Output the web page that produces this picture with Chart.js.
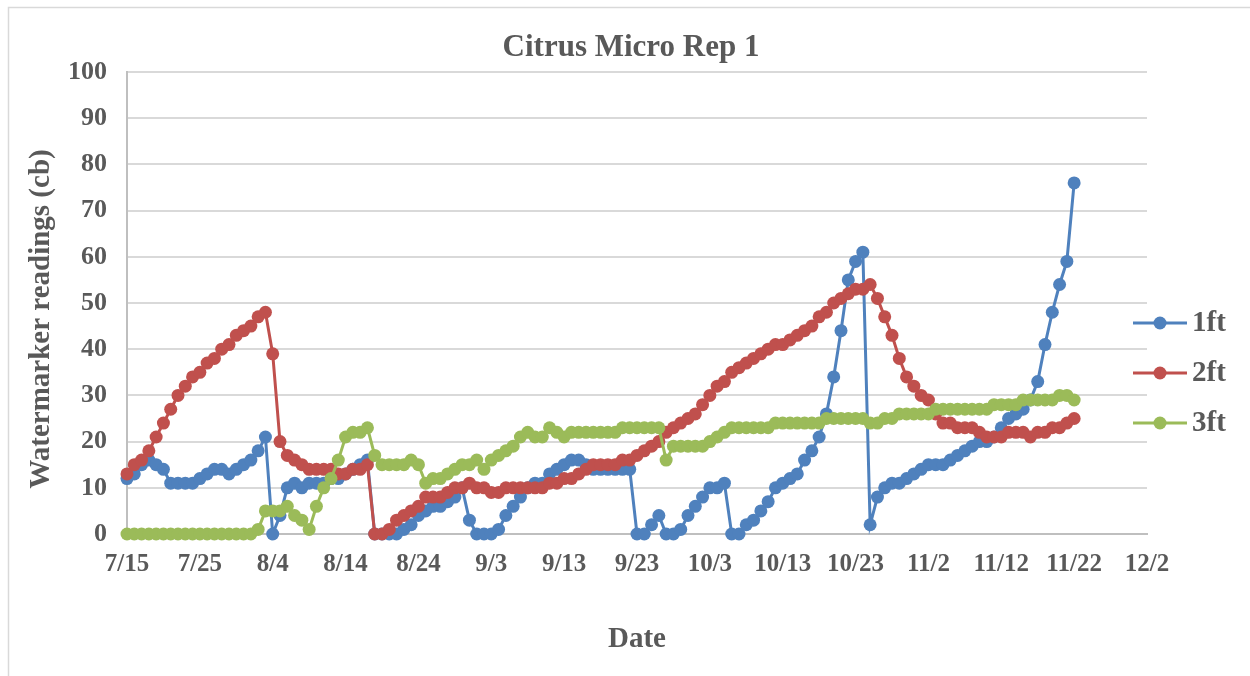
<!DOCTYPE html>
<html>
<head>
<meta charset="utf-8">
<script src="https://cdn.jsdelivr.net/npm/chart.js@4.4.0/dist/chart.umd.min.js"></script>
<style>
  html, body { margin: 0; padding: 0; background: #ffffff; }
  #wrap { width: 1250px; height: 676px; position: relative; }
</style>
</head>
<body>
<div id="wrap"><canvas id="chart" width="1250" height="676"></canvas></div>
<script>
// x axis tick labels, every 10 days starting 7/15
const xLabels = ['7/15', '7/25', '8/4', '8/14', '8/24', '9/3', '9/13', '9/23', '10/3', '10/13', '10/23', '11/2', '11/12', '11/22', '12/2'];
const seriesNames = ['1ft', '2ft', '3ft'];

// daily readings, index 0 = 7/15
const ft1 = [
  12, 13, 15, 16, 15, 14, 11, 11, 11, 11, 12, 13, 14, 14, 13, 14, 15, 16, 18, 21,
  0, 4, 10, 11, 10, 11, 11, 11, 12, 12, 13, 14, 15, 16,
  0, 0, 0, 0, 1, 2, 4, 5, 6, 6, 7, 8, 10, 3, 0, 0, 0, 1,
  4, 6, 8, 10, 11, 11, 13, 14, 15, 16, 16, 15, 14, 14, 14, 14, 14, 14,
  0, 0, 2, 4, 0, 0, 1, 4, 6, 8, 10, 10, 11,
  0, 0, 2, 3, 5, 7, 10, 11, 12, 13, 16, 18, 21, 26, 34, 44, 55, 59, 61,
  2, 8, 10, 11, 11, 12, 13, 14, 15, 15, 15, 16, 17, 18, 19, 20, 20, 21, 23, 25, 26, 27, 29,
  33, 41, 48, 54, 59, 76
];
const ft2 = [
  13, 15, 16, 18, 21, 24, 27, 30, 32, 34, 35, 37, 38, 40, 41, 43, 44, 45, 47, 48,
  39, 20, 17, 16, 15, 14, 14, 14, 14, 13, 13, 14, 14, 15,
  0, 0, 1, 3, 4, 5, 6, 8, 8, 8, 9, 10, 10, 11, 10, 10, 9,
  9, 10, 10, 10, 10, 10, 10, 11, 11, 12, 12, 13, 14, 15, 15, 15, 15, 16, 16, 17, 18, 19, 20, 22, 23, 24, 25, 26, 28, 30,
  32, 33, 35, 36, 37, 38, 39, 40, 41, 41, 42, 43, 44, 45, 47, 48, 50, 51, 52, 53, 53, 54,
  51, 47, 43, 38, 34, 32, 30, 29, 26, 24, 24, 23, 23, 23, 22, 21, 21, 21, 22, 22, 22, 21, 22, 22, 23, 23, 24, 25
];
const ft3 = [
  0, 0, 0, 0, 0, 0, 0, 0, 0, 0, 0, 0, 0, 0, 0, 0, 0, 0,
  1, 5, 5, 5, 6, 4, 3, 1, 6, 10, 12, 16, 21, 22, 22, 23,
  17, 15, 15, 15, 15, 16, 15, 11, 12, 12, 13, 14, 15, 15, 16, 14, 16, 17, 18, 19, 21,
  22, 21, 21, 23, 22, 21, 22, 22, 22, 22, 22, 22, 22, 23, 23, 23, 23, 23, 23,
  16, 19, 19, 19, 19, 19, 20, 21, 22, 23, 23, 23, 23, 23, 23, 24, 24, 24, 24, 24, 24, 24, 25, 25, 25, 25, 25, 25,
  24, 24, 25, 25, 26, 26, 26, 26, 26, 27, 27, 27, 27, 27, 27, 27, 27, 28, 28, 28, 28, 29, 29, 29, 29, 29, 30, 30, 29
];

const colors = ['#4f81bd', '#c0504d', '#9bbb59'];
const FONT = "'Liberation Serif', 'Times New Roman', serif";
const TEXT = '#595959';

const toPoints = (arr) => arr.map((v, i) => ({ x: i, y: v }));

const makeSet = (name, values, color, order) => ({
  label: name,
  data: toPoints(values),
  borderColor: color,
  backgroundColor: color,
  borderWidth: 3,
  pointRadius: 6.5,
  pointHoverRadius: 6.5,
  pointBorderWidth: 0,
  pointBackgroundColor: color,
  tension: 0,
  clip: false,
  order: order
});

// titles, legend and frame drawn on the canvas
const decorations = {
  id: 'decorations',
  beforeDraw(chart) {
    const ctx = chart.ctx;
    ctx.save();
    ctx.strokeStyle = '#d9d9d9';
    ctx.lineWidth = 1.5;
    ctx.beginPath();
    ctx.moveTo(8.5, 680);
    ctx.lineTo(8.5, 7.5);
    ctx.lineTo(1260, 7.5);
    ctx.stroke();
    ctx.restore();
  },
  afterDraw(chart) {
    const ctx = chart.ctx;
    const area = chart.chartArea;
    ctx.save();
    ctx.fillStyle = TEXT;
    ctx.textAlign = 'center';
    ctx.textBaseline = 'middle';

    ctx.font = 'bold 31px ' + FONT;
    ctx.fillText('Citrus Micro Rep 1', 631, 48);

    ctx.font = 'bold 29px ' + FONT;
    ctx.fillText('Date', 637, 640);

    ctx.save();
    ctx.translate(42, 319);
    ctx.rotate(-Math.PI / 2);
    ctx.fillText('Watermarker readings (cb)', 0, 0);
    ctx.restore();

    // legend
    ctx.textAlign = 'left';
    ctx.font = 'bold 29px ' + FONT;
    chart.data.datasets.forEach((ds, i) => {
      const y = 323 + i * 50;
      ctx.strokeStyle = ds.borderColor;
      ctx.lineWidth = 3;
      ctx.beginPath();
      ctx.moveTo(area.right - 14, y);
      ctx.lineTo(area.right + 40, y);
      ctx.stroke();
      ctx.fillStyle = ds.borderColor;
      ctx.beginPath();
      ctx.arc(area.right + 13, y, 6.5, 0, Math.PI * 2);
      ctx.fill();
      ctx.fillStyle = TEXT;
      ctx.fillText(ds.label, area.right + 45, y + 1);
    });
    ctx.restore();
  }
};

const ctx = document.getElementById('chart').getContext('2d');
new Chart(ctx, {
  type: 'line',
  data: {
    datasets: [
      makeSet(seriesNames[0], ft1, colors[0], 3),
      makeSet(seriesNames[1], ft2, colors[1], 2),
      makeSet(seriesNames[2], ft3, colors[2], 1)
    ]
  },
  plugins: [decorations],
  options: {
    responsive: false,
    animation: false,
    events: [],
    layout: {
      padding: { top: 72, right: 103, bottom: 0, left: 0 }
    },
    plugins: {
      legend: { display: false },
      title: { display: false },
      tooltip: { enabled: false }
    },
    scales: {
      x: {
        type: 'linear',
        min: 0,
        max: 140,
        afterFit: (scale) => { scale.height = 142; },
        grid: { display: false, drawTicks: false },
        border: { display: true, color: '#bfbfbf', width: 2 },
        ticks: {
          stepSize: 10,
          padding: 16,
          color: TEXT,
          font: { family: FONT, size: 25, weight: 'bold' },
          maxRotation: 0,
          autoSkip: false,
          callback: (value) => xLabels[value / 10]
        }
      },
      y: {
        min: 0,
        max: 100,
        afterFit: (scale) => { scale.width = 127; },
        grid: { color: '#d9d9d9', lineWidth: 2, drawTicks: false },
        border: { display: true, color: '#bfbfbf', width: 2 },
        ticks: {
          stepSize: 10,
          padding: 20,
          color: TEXT,
          font: { family: FONT, size: 26, weight: 'bold' }
        }
      }
    }
  }
});
</script>
</body>
</html>
